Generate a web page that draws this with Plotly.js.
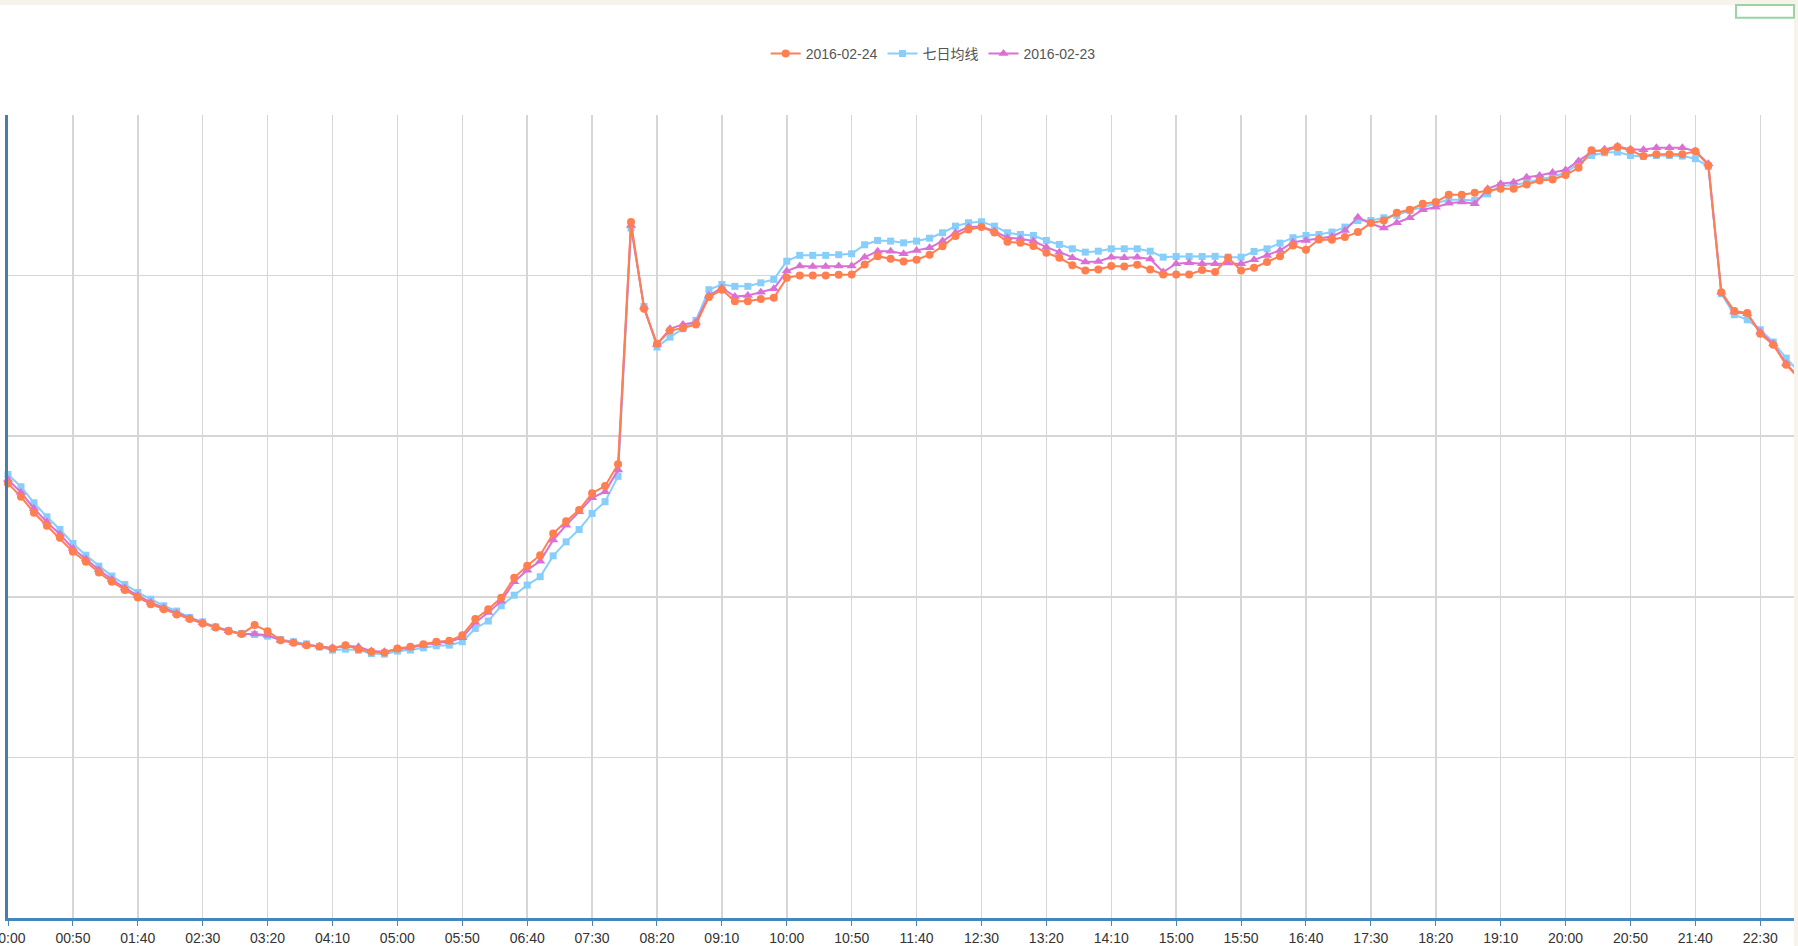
<!DOCTYPE html>
<html>
<head>
<meta charset="utf-8">
<script src="https://cdn.plot.ly/plotly-3.0.1.min.js"></script>
<style>
  html, body { margin: 0; padding: 0; background: #fff; }
  #chart { width: 1798px; height: 946px; }
</style>
</head>
<body>
<div id="chart"></div>
<script>
var times = [
  '00:00','00:10','00:20','00:30','00:40','00:50',
  '01:00','01:10','01:20','01:30','01:40','01:50',
  '02:00','02:10','02:20','02:30','02:40','02:50',
  '03:00','03:10','03:20','03:30','03:40','03:50',
  '04:00','04:10','04:20','04:30','04:40','04:50',
  '05:00','05:10','05:20','05:30','05:40','05:50',
  '06:00','06:10','06:20','06:30','06:40','06:50',
  '07:00','07:10','07:20','07:30','07:40','07:50',
  '08:00','08:10','08:20','08:30','08:40','08:50',
  '09:00','09:10','09:20','09:30','09:40','09:50',
  '10:00','10:10','10:20','10:30','10:40','10:50',
  '11:00','11:10','11:20','11:30','11:40','11:50',
  '12:00','12:10','12:20','12:30','12:40','12:50',
  '13:00','13:10','13:20','13:30','13:40','13:50',
  '14:00','14:10','14:20','14:30','14:40','14:50',
  '15:00','15:10','15:20','15:30','15:40','15:50',
  '16:00','16:10','16:20','16:30','16:40','16:50',
  '17:00','17:10','17:20','17:30','17:40','17:50',
  '18:00','18:10','18:20','18:30','18:40','18:50',
  '19:00','19:10','19:20','19:30','19:40','19:50',
  '20:00','20:10','20:20','20:30','20:40','20:50',
  '21:00','21:10','21:20','21:30','21:40','21:50',
  '22:00','22:10','22:20','22:30','22:40','22:50',
  '23:00'
];

// 2016-02-24
var today = [
  2706,2623,2523,2442,2367,2280,2218,2152,2093,2042,1996,1954,
  1923,1890,1861,1834,1809,1786,1768,1824,1786,1730,1714,1699,
  1691,1678,1699,1674,1658,1653,1678,1689,1705,1720,1726,1761,
  1861,1923,1994,2118,2193,2259,2394,2471,2540,2645,2690,2825,
  4333,3793,3575,3658,3673,3696,3866,3912,3841,3841,3854,3862,
  3986,4001,4001,4001,4005,4007,4069,4121,4105,4088,4099,4130,
  4182,4246,4287,4302,4269,4211,4204,4184,4142,4111,4065,4032,
  4038,4059,4057,4067,4038,4007,4007,4007,4035,4022,4111,4032,
  4049,4084,4121,4188,4161,4225,4223,4240,4271,4327,4343,4391,
  4410,4447,4458,4503,4503,4516,4530,4541,4541,4568,4592,4598,
  4626,4671,4780,4775,4800,4780,4744,4755,4755,4755,4775,4686,
  3897,3779,3767,3638,3569,3445,3358
];

// 七日均线
var weekAvg = [
  2762,2685,2585,2498,2419,2332,2259,2191,2129,2077,2027,1985,
  1944,1911,1871,1844,1813,1790,1772,1765,1755,1734,1720,1707,
  1688,1668,1674,1668,1647,1643,1662,1668,1682,1695,1699,1720,
  1803,1849,1944,2010,2073,2125,2255,2342,2419,2519,2592,2750,
  4296,3808,3555,3617,3669,3721,3912,3945,3933,3933,3955,3976,
  4090,4126,4126,4126,4130,4136,4192,4219,4215,4204,4215,4233,
  4267,4308,4329,4335,4308,4267,4256,4250,4219,4194,4167,4146,
  4152,4167,4167,4167,4152,4115,4119,4119,4119,4120,4115,4115,
  4150,4167,4202,4236,4250,4256,4271,4302,4343,4343,4360,4375,
  4406,4426,4451,4472,4472,4468,4509,4561,4561,4582,4599,4615,
  4640,4697,4748,4765,4769,4748,4742,4748,4748,4744,4728,4680,
  3887,3756,3725,3663,3586,3486,3399
];

// 2016-02-23
var yesterday = [
  2730,2650,2550,2465,2390,2300,2235,2168,2108,2055,2008,1965,
  1930,1898,1866,1838,1810,1788,1769,1768,1760,1730,1715,1700,
  1692,1682,1695,1689,1662,1658,1674,1682,1699,1714,1720,1745,
  1840,1902,1973,2093,2166,2222,2353,2446,2529,2616,2654,2789,
  4312,3804,3571,3669,3696,3710,3876,3924,3870,3876,3897,3918,
  4028,4059,4057,4057,4059,4059,4115,4152,4152,4136,4157,4173,
  4215,4267,4302,4306,4277,4236,4229,4215,4177,4146,4111,4084,
  4088,4115,4111,4115,4103,4022,4074,4080,4074,4074,4078,4074,
  4098,4125,4157,4208,4219,4233,4244,4281,4364,4323,4296,4329,
  4360,4410,4426,4451,4458,4447,4541,4572,4582,4613,4624,4642,
  4657,4714,4769,4786,4806,4786,4784,4796,4796,4796,4775,4696,
  3897,3773,3762,3648,3576,3451,3364
];

var tickTimes = times.filter(function (t, i) { return i % 5 === 0; });

var traceAvg = {
  x: times, y: weekAvg, name: '七日均线', legendrank: 2,
  type: 'scatter', mode: 'lines+markers', cliponaxis: false,
  line: { color: '#87cefa', width: 2 },
  marker: { color: '#87cefa', symbol: 'square', size: 7 }
};
var traceYesterday = {
  x: times, y: yesterday, name: '2016-02-23', legendrank: 3,
  type: 'scatter', mode: 'lines+markers', cliponaxis: false,
  line: { color: '#da70d6', width: 2 },
  marker: { color: '#da70d6', symbol: 'triangle-up', size: 9 }
};
var traceToday = {
  x: times, y: today, name: '2016-02-24', legendrank: 1,
  type: 'scatter', mode: 'lines+markers', cliponaxis: false,
  line: { color: '#ff7f50', width: 2 },
  marker: { color: '#ff7f50', symbol: 'circle', size: 8 }
};

var layout = {
  width: 1798,
  height: 946,
  margin: { l: 8, r: 4, t: 115, b: 28 },
  paper_bgcolor: '#ffffff',
  plot_bgcolor: '#ffffff',
  font: { family: '"Liberation Sans", Arial, "Noto Sans CJK SC", sans-serif', color: '#333' },
  showlegend: true,
  legend: {
    orientation: 'h',
    xref: 'container', yref: 'container',
    x: 0.519, xanchor: 'center',
    y: 0.943, yanchor: 'middle',
    font: { size: 14, color: '#555' },
    itemwidth: 30
  },
  xaxis: {
    type: 'category',
    range: [0, 137.6],
    tickmode: 'array',
    tickvals: tickTimes,
    ticktext: tickTimes,
    tickfont: { size: 14, color: '#333' },
    ticks: 'outside', ticklen: 5, tickcolor: '#4488bb', tickwidth: 1,
    showgrid: true, gridcolor: '#d6d6d6', gridwidth: 1.5,
    showline: true, linecolor: '#4488bb', linewidth: 3,
    zeroline: false, fixedrange: true
  },
  yaxis: {
    range: [0, 5000],
    dtick: 1000,
    showticklabels: false,
    ticks: '',
    showgrid: true, gridcolor: '#d6d6d6', gridwidth: 1.5,
    showline: true, linecolor: '#4a7ea8', linewidth: 3,
    zeroline: false, fixedrange: true
  },
  shapes: [
    { type: 'rect', xref: 'paper', yref: 'paper', layer: 'above',
      x0: -0.01, x1: 1.01, y0: 1.137, y1: 1.16,
      fillcolor: '#f7f3ea', line: { width: 0 } },
    { type: 'rect', xref: 'paper', yref: 'paper', layer: 'above',
      x0: 1.0, x1: 1.01, y0: -0.05, y1: 1.16,
      fillcolor: '#f7f3ea', line: { width: 0 } },
    { type: 'rect', xref: 'paper', yref: 'paper', layer: 'above',
      x0: 0.9675, x1: 1.0, y0: 1.121, y1: 1.137,
      fillcolor: 'rgba(0,0,0,0)', line: { color: '#98d4a4', width: 2 } }
  ]
};

Plotly.newPlot('chart', [traceAvg, traceYesterday, traceToday], layout, { staticPlot: true });
</script>
</body>
</html>
